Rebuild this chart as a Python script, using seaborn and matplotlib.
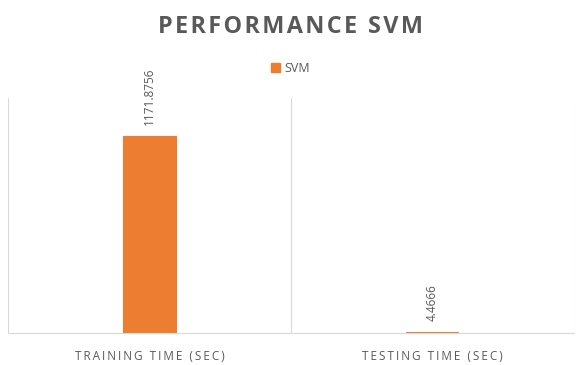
import matplotlib.pyplot as plt
import seaborn as sns
import pandas as pd

# values
categories = ["TRAINING TIME (SEC)", "TESTING TIME (SEC)"]
svm_values = [1171.8756, 4.4666]
series_name = "SVM"
value_labels = ["1171.8756", "4.4666"]

df = pd.DataFrame({"cat": categories, "val": svm_values, "model": series_name})

sns.set_style("white")
plt.rcParams['font.family'] = ['Open Sans', 'DejaVu Sans']

fig = plt.figure(figsize=(5.81, 3.65), dpi=100)
ax = fig.add_axes([0.0138, 0.088, 0.974, 0.643])

sns.barplot(data=df, x="cat", y="val", hue="model", palette=["#ED7D31"],
            width=0.184, ax=ax, legend=False, saturation=1,
            edgecolor="#ED7D31", linewidth=0.8)

ax.set_ylim(0, 1400)
ax.set_xlim(-0.5, 1.5)
ax.set_xlabel("")
ax.set_ylabel("")
ax.set_yticks([])

# category separators
for xv in [-0.5, 0.5, 1.5]:
    ax.axvline(xv, color="#D9D9D9", lw=0.8, zorder=0)

for s in ["top", "right", "left"]:
    ax.spines[s].set_visible(False)
ax.spines["bottom"].set_color("#D9D9D9")
ax.spines["bottom"].set_linewidth(0.8)

# letter-spaced category labels
spaced = ["\u2009".join(c) for c in categories]
ax.set_xticks([0, 1])
ax.set_xticklabels(spaced, fontsize=8.5, color="#595959")
ax.tick_params(axis="x", length=0, pad=12)

# data labels
for i, (v, t) in enumerate(zip(svm_values, value_labels)):
    ax.annotate(t, (i, v), xytext=(0, 8), textcoords="offset points",
                rotation=90, ha="center", va="bottom", fontsize=8.5, color="#595959")

fig.text(0.5, 0.926, "\u200a".join("PERFORMANCE SVM"), ha="center", va="center",
         fontsize=16.8, fontweight="bold", color="#595959")

handle = plt.Rectangle((0, 0), 1, 1, color="#ED7D31")
fig.legend([handle], [series_name], loc="center", bbox_to_anchor=(0.5, 0.812),
           frameon=False, fontsize=9, handlelength=0.7, handleheight=0.7,
           handletextpad=0.3, labelcolor="#595959")

fig.savefig("out.png", dpi=100)
